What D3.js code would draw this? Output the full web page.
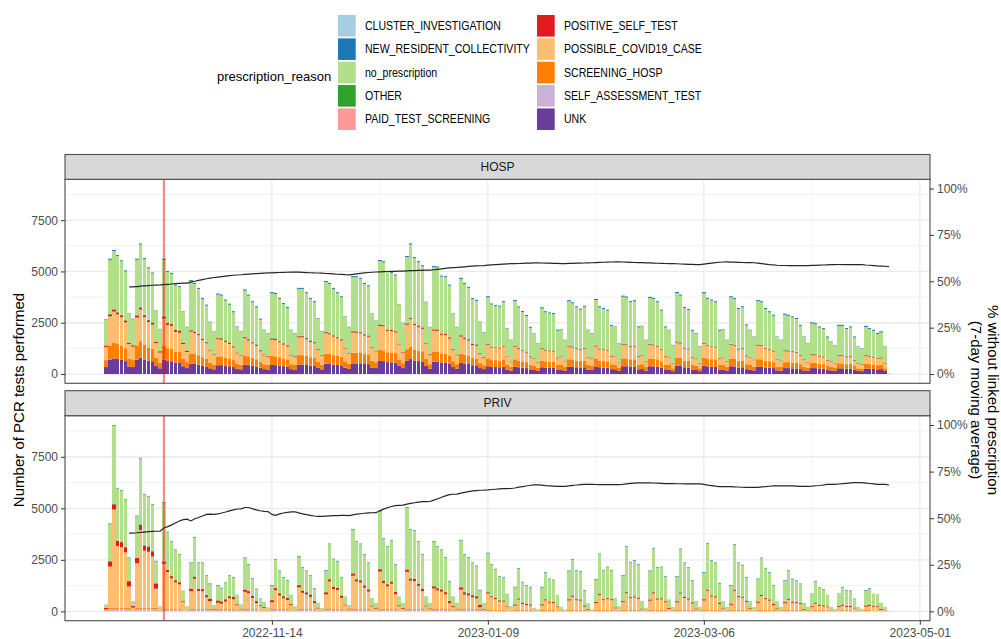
<!DOCTYPE html>
<html>
<head>
<meta charset="utf-8">
<script src="https://cdn.jsdelivr.net/npm/d3@7"></script>
<style>
  body { margin: 0; background: #fff; }
  svg text { font-family: "Liberation Sans", Arial, sans-serif; }
</style>
</head>
<body>
<div id="chart"></div>
<script>
// ---- data ----
// one value per day, 2022-10-02 .. 2023-04-23 (first value is a Sunday, then Mon..Sun per line)
const firstDay = "2022-10-02";
const redLineDay = "2022-10-17";

const reasons = ["CLUSTER_INVESTIGATION", "NEW_RESIDENT_COLLECTIVITY", "no_prescription", "OTHER", "PAID_TEST_SCREENING",
  "POSITIVE_SELF_TEST", "POSSIBLE_COVID19_CASE", "SCREENING_HOSP", "SELF_ASSESSMENT_TEST", "UNK"];
const reasonColors = ["#a6cee3", "#1f78b4", "#b2df8a", "#33a02c", "#fb9a99",
  "#e31a1c", "#fdbf6f", "#ff7f00", "#cab2d6", "#6a3d9a"];
const panels = ["HOSP", "PRIV"];

const yTicks = [0, 2500, 5000, 7500];
const yMinor = [1250, 3750, 6250, 8750];
const pctTicks = [0, 0.25, 0.5, 0.75, 1];
const dateTicks = ["2022-11-14", "2023-01-09", "2023-03-06", "2023-05-01"];
const dateMinor = ["2022-10-17", "2022-12-12", "2023-02-06", "2023-04-03"];

// HOSP
const hospUnk = [
  340,
  700,760,730,690,630,370,340,
  700,800,710,650,620,390,280,
  700,630,620,550,540,380,290,
  500,490,460,410,370,280,230,
  430,430,400,380,340,260,230,
  450,430,390,360,300,240,220,
  440,430,410,380,360,240,220,
  460,460,440,410,390,300,230,
  500,490,460,440,420,310,250,
  520,520,520,490,480,320,290,
  640,630,580,570,560,390,290,
  660,730,660,630,610,400,260,
  600,600,550,550,500,340,260,
  540,510,490,430,420,290,240,
  380,340,340,330,360,220,170,
  360,330,310,290,230,200,150,
  330,310,300,300,220,220,170,
  360,350,330,320,330,220,200,
  370,330,320,310,240,230,150,
  380,380,360,360,230,240,170,
  380,370,360,310,230,220,140,
  400,390,330,320,220,200,140,
  400,370,360,360,220,220,170,
  380,370,320,330,240,220,180,
  360,360,320,310,290,180,170,
  290,290,280,270,240,180,150,
  290,290,270,260,210,180,160,
  280,280,260,270,210,150,140,
  270,260,250,230,240,150,0
];
const hospScreen = [
  340,
  700,760,730,690,630,370,340,
  700,800,710,650,620,390,280,
  700,630,620,550,540,380,290,
  500,490,460,410,370,280,230,
  430,430,400,380,340,260,230,
  450,430,390,360,300,240,220,
  440,430,410,380,360,240,220,
  460,460,440,410,390,300,230,
  500,490,460,440,420,310,250,
  520,520,520,490,480,320,290,
  530,520,480,470,460,320,240,
  550,610,540,520,500,330,220,
  500,500,460,450,410,280,220,
  450,420,400,350,340,240,190,
  380,340,340,330,360,220,170,
  360,330,310,290,230,200,150,
  330,310,300,300,220,220,170,
  360,350,330,320,330,220,200,
  370,330,320,310,240,230,150,
  380,380,360,360,230,240,170,
  380,370,360,310,230,220,140,
  400,390,330,320,220,200,140,
  400,370,360,360,220,220,170,
  380,370,320,330,240,220,180,
  360,360,320,310,290,180,170,
  290,290,280,270,240,180,150,
  250,250,230,220,180,160,140,
  240,240,220,230,180,130,120,
  240,220,220,200,210,130,0
];
const hospPossible = [
  645,
  1415,1525,1445,1395,1255,725,655,
  1355,1545,1355,1235,1165,735,485,
  1305,1135,1105,955,935,705,495,
  1070,1025,975,835,755,595,465,
  835,815,765,705,615,495,445,
  845,775,715,655,505,435,405,
  795,795,725,675,625,425,395,
  865,875,815,745,715,575,435,
  985,955,905,855,795,625,505,
  985,975,945,895,855,625,525,
  1175,1175,1045,1055,1015,735,515,
  1195,1335,1185,1145,1095,755,465,
  1015,1005,905,905,815,565,435,
  835,785,745,635,615,465,355,
  665,605,575,585,615,415,285,
  615,555,505,465,355,335,245,
  555,515,505,495,325,395,285,
  615,595,555,535,565,365,345,
  605,535,525,515,365,405,235,
  665,645,595,615,365,405,275,
  655,655,615,545,375,375,235,
  735,705,575,555,345,365,215,
  675,625,605,575,305,375,265,
  655,635,545,555,385,365,315,
  665,645,595,545,515,345,295,
  535,515,505,485,415,345,265,
  385,375,345,335,255,255,215,
  355,365,335,345,255,215,195,
  375,355,335,305,315,225,30
];
const hospPositive = [
  60,
  90,90,90,90,90,60,60,
  90,90,90,90,90,60,60,
  90,90,90,90,90,60,60,
  50,50,50,50,50,30,30,
  50,50,50,50,50,30,30,
  50,50,50,50,50,30,30,
  50,50,50,50,50,30,30,
  50,50,50,50,50,30,30,
  50,50,50,50,50,30,30,
  50,50,50,50,50,30,30,
  50,50,50,50,50,30,30,
  50,50,50,50,50,30,30,
  50,50,50,50,50,30,30,
  50,50,50,50,50,30,30,
  30,30,30,30,30,20,20,
  30,30,30,30,30,20,20,
  30,30,30,30,30,20,20,
  30,30,30,30,30,20,20,
  30,30,30,30,30,20,20,
  30,30,30,30,30,20,20,
  30,30,30,30,30,20,20,
  30,30,30,30,30,20,20,
  30,30,30,30,30,20,20,
  30,30,30,30,30,20,20,
  30,30,30,30,30,20,20,
  30,30,30,30,30,20,20,
  30,30,30,30,30,20,20,
  30,30,30,30,30,20,20,
  30,30,30,30,30,20,0
];
const hospOther = [
  15,
  25,25,25,25,25,15,15,
  25,25,25,25,25,15,15,
  25,25,25,25,25,15,15,
  25,25,25,25,25,15,15,
  25,25,25,25,25,15,15,
  25,25,25,25,25,15,15,
  25,25,25,25,25,15,15,
  25,25,25,25,25,15,15,
  25,25,25,25,25,15,15,
  25,25,25,25,25,15,15,
  25,25,25,25,25,15,15,
  25,25,25,25,25,15,15,
  25,25,25,25,25,15,15,
  25,25,25,25,25,15,15,
  25,25,25,25,25,15,15,
  25,25,25,25,25,15,15,
  25,25,25,25,25,15,15,
  25,25,25,25,25,15,15,
  25,25,25,25,25,15,15,
  25,25,25,25,25,15,15,
  25,25,25,25,25,15,15,
  25,25,25,25,25,15,15,
  25,25,25,25,25,15,15,
  25,25,25,25,25,15,15,
  25,25,25,25,25,15,15,
  25,25,25,25,25,15,15,
  25,25,25,25,25,15,15,
  25,25,25,25,25,15,15,
  25,25,25,25,25,15,0
];
const hospNoPresc = [
  1260,
  2640,2840,2730,2600,2370,1390,1270,
  2700,3050,2710,2500,2380,1490,1060,
  2750,2460,2420,2140,2100,1500,1130,
  2380,2310,2180,1930,1760,1330,1080,
  2100,2070,1940,1840,1640,1240,1110,
  2250,2110,1930,1800,1470,1180,1090,
  2190,2170,2040,1900,1800,1190,1100,
  2290,2280,2170,2020,1930,1490,1140,
  2420,2380,2250,2130,2030,1500,1230,
  2620,2630,2580,2440,2380,1620,1430,
  3090,3050,2790,2760,2690,1890,1390,
  3220,3570,3190,3080,2970,1970,1290,
  3020,3010,2760,2740,2510,1700,1320,
  2740,2600,2490,2160,2120,1490,1200,
  2260,2050,2000,1980,2110,1330,990,
  2160,1970,1840,1730,1380,1190,900,
  1930,1820,1790,1770,1290,1300,990,
  2160,2100,1980,1910,2000,1300,1200,
  2210,2000,1950,1900,1450,1400,910,
  2290,2270,2130,2160,1390,1410,1000,
  2240,2210,2110,1870,1380,1290,850,
  2360,2280,1930,1870,1270,1180,800,
  2410,2240,2200,2150,1310,1320,1010,
  2270,2230,1930,1980,1450,1300,1100,
  2110,2080,1880,1790,1690,1070,980,
  1720,1690,1640,1600,1400,1070,880,
  1490,1460,1370,1320,1080,940,830,
  1420,1410,1320,1370,1080,790,740,
  1360,1300,1250,1160,1210,780,0
];
const hospNewRes = [
  20,
  50,50,50,50,50,20,20,
  50,50,50,50,50,20,20,
  50,50,50,50,50,20,20,
  50,50,50,50,50,20,20,
  50,50,50,50,50,20,20,
  50,50,50,50,50,20,20,
  50,50,50,50,50,20,20,
  50,50,50,50,50,20,20,
  50,50,50,50,50,20,20,
  50,50,50,50,50,20,20,
  50,50,50,50,50,20,20,
  50,50,50,50,50,20,20,
  50,50,50,50,50,20,20,
  50,50,50,50,50,20,20,
  50,50,50,50,50,20,20,
  50,50,50,50,50,20,20,
  50,50,50,50,50,20,20,
  50,50,50,50,50,20,20,
  50,50,50,50,50,20,20,
  50,50,50,50,50,20,20,
  50,50,50,50,50,20,20,
  50,50,50,50,50,20,20,
  50,50,50,50,50,20,20,
  50,50,50,50,50,20,20,
  50,50,50,50,50,20,20,
  50,50,50,50,50,20,20,
  50,50,50,50,50,20,20,
  50,50,50,50,50,20,20,
  50,50,50,50,50,20,0
];

// PRIV
const privSelf = [
  30,
  120,120,120,120,120,120,30,
  120,120,120,120,120,120,10,
  60,60,60,60,60,30,10,
  60,60,60,60,60,60,30,
  60,60,60,60,60,30,30,
  60,60,60,60,30,30,10,
  60,60,60,60,60,30,10,
  60,60,60,60,60,30,10,
  60,60,60,60,60,30,30,
  60,60,60,60,60,30,30,
  60,60,60,60,60,30,30,
  60,60,60,60,60,30,30,
  60,60,60,60,60,30,30,
  60,60,60,60,60,60,30,
  30,30,30,30,30,30,10,
  30,30,30,30,30,10,10,
  30,30,30,30,30,10,10,
  30,30,30,30,30,30,10,
  30,30,30,30,30,30,10,
  30,30,30,30,30,30,10,
  30,30,30,30,30,30,10,
  30,30,30,30,30,30,10,
  30,30,30,30,30,30,10,
  30,30,30,30,30,30,10,
  30,30,30,30,30,30,10,
  30,30,30,30,30,30,10,
  30,30,30,30,30,10,10,
  30,30,30,30,30,10,10,
  30,30,30,30,30,10,0
];
const privScreen = [
  20,
  50,50,50,50,50,50,20,
  50,50,50,50,50,50,10,
  50,50,50,50,50,20,10,
  50,50,50,50,50,50,20,
  50,50,50,50,50,20,20,
  50,50,50,50,20,20,10,
  50,50,50,50,50,20,10,
  50,50,50,50,50,20,10,
  50,50,50,50,50,20,20,
  50,50,50,50,50,20,20,
  50,50,50,50,50,20,20,
  50,50,50,50,50,20,20,
  50,50,50,50,50,20,20,
  50,50,50,50,50,50,20,
  40,40,40,40,40,20,10,
  40,40,40,40,40,10,10,
  40,40,40,40,20,10,10,
  40,40,40,40,40,20,10,
  40,40,40,40,40,20,10,
  40,40,40,40,40,20,10,
  40,40,40,40,40,20,10,
  40,40,40,40,40,20,10,
  40,40,40,40,40,20,10,
  40,40,40,40,40,20,10,
  40,40,40,40,40,20,10,
  40,40,40,40,40,20,10,
  20,40,40,40,20,10,10,
  20,40,40,40,20,10,10,
  40,40,20,20,20,10,0
];
const privPossible = [
  45,
  2000,4770,3000,2940,2690,1040,135,
  2170,3780,2770,2720,2490,930,110,
  2200,1800,1500,1300,1200,400,60,
  880,1470,880,870,575,390,35,
  310,260,370,525,490,255,45,
  840,770,540,290,225,125,70,
  330,920,660,520,440,265,90,
  1060,790,710,595,290,95,50,
  710,1340,980,930,550,245,45,
  1620,1340,1290,1040,850,195,85,
  1830,1270,1100,1230,730,205,65,
  1810,1380,1360,1130,880,195,55,
  1000,910,850,720,290,165,45,
  950,710,660,570,520,100,35,
  800,610,530,410,400,185,55,
  210,500,290,240,210,25,5,
  220,460,350,340,155,40,5,
  460,640,470,450,160,15,5,
  330,730,470,520,470,100,50,
  375,810,570,600,540,45,25,
  450,800,500,510,370,75,40,
  370,790,580,500,310,50,40,
  460,930,650,610,290,55,40,
  250,930,620,590,390,60,45,
  350,680,520,450,240,55,40,
  330,490,350,330,280,30,40,
  175,300,200,170,150,40,10,
  165,200,150,140,95,40,10,
  160,190,165,160,25,40,20
];
const privPositive = [
  80,
  250,250,250,250,250,250,80,
  250,250,250,250,250,250,10,
  100,100,100,100,100,40,10,
  100,100,100,100,100,100,40,
  100,100,100,100,100,40,40,
  100,100,100,100,40,40,10,
  100,100,100,100,100,40,10,
  100,100,100,100,100,40,10,
  100,100,100,100,100,40,40,
  100,100,100,100,100,40,40,
  100,100,100,100,100,40,40,
  100,100,100,100,100,40,40,
  100,100,100,100,100,40,40,
  100,100,100,100,100,100,40,
  50,50,50,50,50,40,10,
  50,50,50,50,50,10,10,
  50,50,50,50,40,10,10,
  50,50,50,50,50,40,10,
  50,50,50,50,50,40,10,
  50,50,50,50,50,40,10,
  50,50,50,50,50,40,10,
  50,50,50,50,50,40,10,
  50,50,50,50,50,40,10,
  50,50,50,50,50,40,10,
  50,50,50,50,50,40,10,
  50,50,50,50,50,40,10,
  40,50,50,50,40,10,10,
  40,50,50,50,40,10,10,
  50,50,40,40,40,10,0
];
const privOther = [
  5,
  20,20,20,20,20,20,5,
  20,20,20,20,20,20,0,
  20,20,20,20,20,5,0,
  20,20,20,20,20,20,5,
  20,20,20,20,20,5,5,
  20,20,20,20,5,5,0,
  20,20,20,20,20,5,0,
  20,20,20,20,20,5,0,
  20,20,20,20,20,5,5,
  20,20,20,20,20,5,5,
  20,20,20,20,20,5,5,
  20,20,20,20,20,5,5,
  20,20,20,20,20,5,5,
  20,20,20,20,20,20,5,
  20,20,20,20,20,5,0,
  20,20,20,20,20,0,0,
  20,20,20,20,5,0,0,
  20,20,20,20,20,5,0,
  20,20,20,20,20,5,0,
  20,20,20,20,20,5,0,
  20,20,20,20,20,5,0,
  20,20,20,20,20,5,0,
  20,20,20,20,20,5,0,
  20,20,20,20,20,5,0,
  20,20,20,20,20,5,0,
  20,20,20,20,20,5,0,
  5,20,20,20,5,0,0,
  5,20,20,20,5,0,0,
  20,20,5,5,5,0,0
];
const privNoPresc = [
  140,
  1790,3800,2520,2470,2280,1100,210,
  2000,3200,2440,2410,2240,1050,110,
  2840,1810,1640,1440,1310,495,160,
  1230,1870,1230,1240,910,700,160,
  700,630,770,960,920,440,180,
  1510,1270,800,550,320,220,100,
  680,1350,1060,890,810,430,130,
  1370,1090,1010,890,570,210,90,
  1030,1690,1320,1260,860,370,150,
  2110,1800,1740,1470,1260,340,210,
  2770,2020,1800,1980,1310,410,230,
  2980,2350,2330,2010,1630,420,240,
  2140,1990,1890,1660,930,450,250,
  2260,1800,1720,1540,1440,680,260,
  1870,1520,1360,1120,1100,560,165,
  810,1430,970,860,810,115,65,
  800,1270,1070,1030,540,150,65,
  1350,1720,1370,1330,710,260,65,
  1060,1900,1370,1480,1370,435,170,
  1200,2180,1660,1710,1590,340,115,
  1360,2110,1470,1490,1160,390,150,
  1160,2090,1620,1470,1030,335,150,
  1270,2220,1660,1590,920,330,150,
  850,2170,1580,1500,1110,325,145,
  1070,1760,1420,1280,860,330,150,
  1010,1350,1070,1010,900,275,150,
  600,1010,790,730,545,150,85,
  610,820,720,700,440,150,85,
  710,760,580,565,280,150,0
];
const privNewRes = [
  10,
  30,30,30,30,30,30,10,
  30,30,30,30,30,30,0,
  30,30,30,30,30,10,0,
  30,30,30,30,30,30,10,
  30,30,30,30,30,10,10,
  30,30,30,30,10,10,0,
  30,30,30,30,30,10,0,
  30,30,30,30,30,10,0,
  30,30,30,30,30,10,10,
  30,30,30,30,30,10,10,
  30,30,30,30,30,10,10,
  30,30,30,30,30,10,10,
  30,30,30,30,30,10,10,
  30,30,30,30,30,30,10,
  30,30,30,30,30,10,0,
  30,30,30,30,30,0,0,
  30,30,30,30,10,0,0,
  30,30,30,30,30,10,0,
  30,30,30,30,30,10,0,
  30,30,30,30,30,10,0,
  30,30,30,30,30,10,0,
  30,30,30,30,30,10,0,
  30,30,30,30,30,10,0,
  30,30,30,30,30,10,0,
  30,30,30,30,30,10,0,
  30,30,30,30,30,10,0,
  10,30,30,30,10,0,0,
  10,30,30,30,10,0,0,
  30,30,10,10,10,0,0
];

// ---- build tables ----
const seriesByPanel = {
  HOSP: {
    UNK: hospUnk, SCREENING_HOSP: hospScreen, POSSIBLE_COVID19_CASE: hospPossible,
    POSITIVE_SELF_TEST: hospPositive, OTHER: hospOther, no_prescription: hospNoPresc,
    NEW_RESIDENT_COLLECTIVITY: hospNewRes
  },
  PRIV: {
    SELF_ASSESSMENT_TEST: privSelf, SCREENING_HOSP: privScreen, POSSIBLE_COVID19_CASE: privPossible,
    POSITIVE_SELF_TEST: privPositive, OTHER: privOther, no_prescription: privNoPresc,
    NEW_RESIDENT_COLLECTIVITY: privNewRes
  }
};

// ggplot stacks the first level on top, so the stack goes bottom -> top in reverse order
const stackOrder = reasons.slice().reverse();
const color = d3.scaleOrdinal().domain(reasons).range(reasonColors);

const parseDay = d3.utcParse("%Y-%m-%d");
const day0 = parseDay(firstDay);
const nDays = hospUnk.length;
const days = d3.range(nDays).map(i => d3.utcDay.offset(day0, i));
const DAY = 864e5;

const tables = {};
panels.forEach(p => {
  const s = seriesByPanel[p];
  tables[p] = days.map((d, i) => {
    const row = { date: d };
    stackOrder.forEach(k => { row[k] = s[k] ? s[k][i] : 0; });
    row.total = d3.sum(stackOrder, k => row[k]);
    return row;
  });
});
const maxTotal = d3.max(panels, p => d3.max(tables[p], r => r.total));

// ---- layout ----
const width = 1001, height = 639;
const left = 65, right = 930;
const boxes = [
  { strip: 154.5, top: 179.3, bottom: 383.3 },
  { strip: 390.7, top: 415.7, bottom: 620.7 }
];

const svg = d3.select("#chart")
  .append("svg")
  .attr("width", width)
  .attr("height", height);
svg.append("rect").attr("width", width).attr("height", height).attr("fill", "#fff");

// x: bars are 0.9 day wide, 5% padding on each side like ggplot
const lo = +days[0] - 0.45 * DAY, hi = +days[nDays - 1] + 0.45 * DAY;
const pad = (hi - lo) * 0.05;
const x = d3.scaleUtc().domain([new Date(lo - pad), new Date(hi + pad)]).range([left, right]);
// bar edges snapped to whole pixels (gives the occasional 1px gap)
const barL = d => Math.round(x(new Date(+d - 0.45 * DAY)));
const barR = d => Math.round(x(new Date(+d + 0.45 * DAY)));

const stack = d3.stack().keys(stackOrder);

panels.forEach((p, pi) => {
  const box = boxes[pi];
  const y = d3.scaleLinear()
    .domain([-0.05 * maxTotal, 1.05 * maxTotal])
    .range([box.bottom, box.top]);
  const g = svg.append("g");

  // background + grid
  g.append("rect").attr("x", left).attr("y", box.top)
    .attr("width", right - left).attr("height", box.bottom - box.top).attr("fill", "#fff");
  g.selectAll(".ymin").data(yMinor).enter().append("line")
    .attr("x1", left).attr("x2", right)
    .attr("y1", d => y(d)).attr("y2", d => y(d))
    .attr("stroke", "#f2f2f2").attr("stroke-width", 1);
  g.selectAll(".xmin").data(dateMinor).enter().append("line")
    .attr("x1", d => x(parseDay(d))).attr("x2", d => x(parseDay(d)))
    .attr("y1", box.top).attr("y2", box.bottom)
    .attr("stroke", "#f2f2f2").attr("stroke-width", 1);
  g.selectAll(".ymaj").data(yTicks).enter().append("line")
    .attr("x1", left).attr("x2", right)
    .attr("y1", d => y(d)).attr("y2", d => y(d))
    .attr("stroke", "#ebebeb").attr("stroke-width", 1.3);
  g.selectAll(".xmaj").data(dateTicks).enter().append("line")
    .attr("x1", d => x(parseDay(d))).attr("x2", d => x(parseDay(d)))
    .attr("y1", box.top).attr("y2", box.bottom)
    .attr("stroke", "#ebebeb").attr("stroke-width", 1.3);

  // stacked bars
  const layers = stack(tables[p]);
  g.selectAll(".layer").data(layers).enter().append("g")
    .attr("fill", d => color(d.key))
    .selectAll("rect")
    .data(d => d.filter(s => s[1] > s[0]))
    .enter().append("rect")
    .attr("x", d => barL(d.data.date))
    .attr("width", d => barR(d.data.date) - barL(d.data.date))
    .attr("y", d => y(d[1]))
    .attr("height", d => y(d[0]) - y(d[1]));

  // 7-day moving share without prescription (ratio of sums)
  const rows = tables[p];
  const share = d3.range(6, nDays).map(i => {
    const w = rows.slice(i - 6, i + 1);
    return { date: rows[i].date, pct: d3.sum(w, r => r.no_prescription) / d3.sum(w, r => r.total) };
  });
  g.append("path")
    .datum(share)
    .attr("fill", "none")
    .attr("stroke", "#262626")
    .attr("stroke-width", 1.2)
    .attr("d", d3.line().x(d => x(d.date)).y(d => y(d.pct * maxTotal)));

  // red marker
  g.append("line")
    .attr("x1", x(parseDay(redLineDay))).attr("x2", x(parseDay(redLineDay)))
    .attr("y1", box.top).attr("y2", box.bottom)
    .attr("stroke", "#ff0000").attr("stroke-opacity", 0.45).attr("stroke-width", 2.2);

  // border
  g.append("rect").attr("x", left).attr("y", box.top)
    .attr("width", right - left).attr("height", box.bottom - box.top)
    .attr("fill", "none").attr("stroke", "#4d4d4d").attr("stroke-width", 1.1);

  // strip
  g.append("rect").attr("x", left).attr("y", box.strip)
    .attr("width", right - left).attr("height", box.top - box.strip)
    .attr("fill", "#d9d9d9").attr("stroke", "#4d4d4d").attr("stroke-width", 1.1);
  g.append("text")
    .attr("x", (left + right) / 2).attr("y", (box.strip + box.top) / 2)
    .attr("dy", "0.35em").attr("text-anchor", "middle")
    .attr("font-size", 12).attr("fill", "#1a1a1a")
    .text(p);

  // left axis
  const yl = g.append("g").attr("transform", `translate(${left},0)`)
    .call(d3.axisLeft(y).tickValues(yTicks).tickSize(4).tickPadding(3).tickFormat(d3.format("d")));
  // right axis (percent)
  const yr = g.append("g").attr("transform", `translate(${right},0)`)
    .call(d3.axisRight(y).tickValues(pctTicks.map(v => v * maxTotal)).tickSize(4).tickPadding(3)
      .tickFormat(v => Math.round(v / maxTotal * 100) + "%"));
  [yl, yr].forEach(a => {
    a.select(".domain").remove();
    a.selectAll("line").attr("stroke", "#333");
    a.selectAll("text").attr("font-size", 12).attr("fill", "#4d4d4d")
      .style("font-family", "'Liberation Sans', Arial, sans-serif");
  });

  // bottom axis only under the last panel
  if (pi === panels.length - 1) {
    const xa = g.append("g").attr("transform", `translate(0,${box.bottom})`)
      .call(d3.axisBottom(x).tickValues(dateTicks.map(parseDay)).tickSize(4).tickPadding(4)
        .tickFormat(d3.utcFormat("%Y-%m-%d")));
    xa.select(".domain").remove();
    xa.selectAll("line").attr("stroke", "#333");
    xa.selectAll("text").attr("font-size", 12).attr("fill", "#4d4d4d")
      .style("font-family", "'Liberation Sans', Arial, sans-serif");
  }
});

// axis titles
svg.append("text")
  .attr("transform", "translate(24,400) rotate(-90)")
  .attr("text-anchor", "middle").attr("font-size", 15).attr("fill", "#000")
  .text("Number of PCR tests performed");
svg.append("text")
  .attr("transform", "translate(988,400) rotate(90)")
  .attr("text-anchor", "middle").attr("font-size", 15).attr("fill", "#000")
  .text("% without linked prescription");
svg.append("text")
  .attr("transform", "translate(971,400) rotate(90)")
  .attr("text-anchor", "middle").attr("font-size", 15).attr("fill", "#000")
  .text("(7-day moving average)");

// legend (two columns, filled by column)
const legend = svg.append("g");
legend.append("text")
  .attr("x", 217).attr("y", 76).attr("dy", "0.35em")
  .attr("font-size", 13).attr("fill", "#000")
  .text("prescription_reason");
const colX = [338, 537];
reasons.forEach((r, i) => {
  const col = Math.floor(i / 5), row = i % 5;
  const cy = 25.8 + row * 23.35;
  legend.append("rect")
    .attr("x", colX[col]).attr("y", cy - 10.8)
    .attr("width", 17.7).attr("height", 21.6)
    .attr("fill", reasonColors[i]);
  // labels are drawn a bit narrow, like the reference
  legend.append("text")
    .attr("transform", `translate(${colX[col] + 27},${cy}) scale(0.88,1)`)
    .attr("dy", "0.35em")
    .attr("font-size", 12).attr("fill", "#000")
    .text(r);
});
</script>
</body>
</html>
